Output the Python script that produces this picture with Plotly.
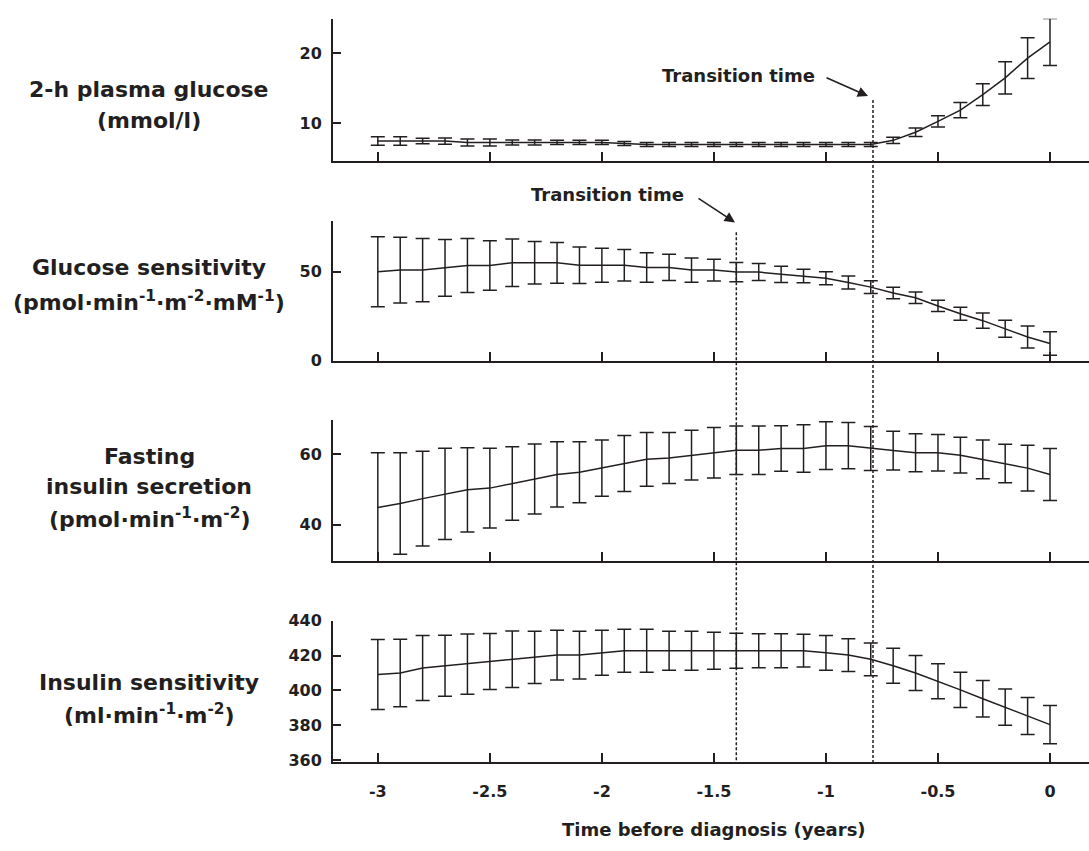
import plotly.graph_objects as go

W, H = 1089, 851

# ---------------- data ----------------
time = [-3.0, -2.9, -2.8, -2.7, -2.6, -2.5, -2.4, -2.3, -2.2, -2.1, -2.0,
        -1.9, -1.8, -1.7, -1.6, -1.5, -1.4, -1.3, -1.2, -1.1, -1.0,
        -0.9, -0.8, -0.7, -0.6, -0.5, -0.4, -0.3, -0.2, -0.1, 0.0]

glucose_mean = [7.5, 7.5, 7.5, 7.5, 7.3, 7.3, 7.3, 7.3, 7.3, 7.3, 7.3,
                7.15, 7.0, 7.0, 7.0, 7.0, 7.0, 7.0, 7.0, 7.0, 7.0,
                7.0, 7.0, 7.6, 8.75, 10.3, 11.9, 14.1, 16.5, 19.3, 21.6]
glucose_err = [0.6, 0.6, 0.4, 0.45, 0.5, 0.5, 0.35, 0.35, 0.3, 0.3, 0.3,
               0.3, 0.28, 0.28, 0.28, 0.28, 0.28, 0.28, 0.28, 0.28, 0.28,
               0.28, 0.28, 0.45, 0.6, 0.8, 1.1, 1.55, 2.3, 2.9, 3.35]

gsens_mean = [50.0, 50.9, 50.9, 52.2, 53.5, 53.5, 55.0, 55.0, 55.0, 53.6, 53.6,
              53.6, 52.4, 52.4, 50.9, 50.9, 49.8, 49.8, 48.5, 47.6, 46.3,
              43.9, 41.3, 38.0, 35.3, 30.7, 26.3, 22.4, 17.8, 13.2, 9.5]
gsens_err = [19.7, 18.5, 17.8, 16.0, 15.2, 14.0, 13.4, 12.0, 11.5, 10.3, 9.6,
             8.9, 8.3, 7.4, 6.8, 6.1, 5.4, 4.8, 4.6, 3.8, 3.6,
             3.7, 3.6, 3.2, 3.2, 3.2, 3.6, 4.3, 4.8, 6.2, 6.6]

fins_mean = [44.9, 46.0, 47.4, 48.75, 49.9, 50.4, 51.7, 53.0, 54.3, 54.9, 56.1,
             57.4, 58.6, 59.0, 59.8, 60.5, 61.2, 61.2, 61.7, 61.7, 62.5,
             62.5, 61.7, 61.1, 60.5, 60.5, 59.8, 58.6, 57.4, 56.1, 54.3]
fins_err = [15.6, 14.5, 13.5, 13.0, 12.0, 11.4, 10.5, 10.0, 9.3, 8.7, 8.0,
            8.0, 7.7, 7.3, 7.1, 7.2, 6.9, 6.9, 6.5, 6.8, 6.8,
            6.6, 6.3, 5.5, 5.4, 5.2, 5.1, 5.5, 5.5, 6.5, 7.4]

isens_mean = [409.1, 410.0, 412.9, 414.2, 415.1, 416.6, 417.9, 419.0, 420.3, 420.3, 421.6,
              422.8, 422.8, 422.8, 422.8, 422.8, 422.8, 422.8, 422.8, 422.8, 421.6,
              420.3, 417.9, 414.2, 410.0, 405.3, 400.3, 395.2, 390.4, 385.3, 380.4]
isens_err = [20.1, 19.4, 18.7, 17.5, 17.3, 16.1, 16.2, 15.0, 14.3, 13.7, 12.9,
             12.3, 12.3, 11.2, 11.2, 10.6, 10.0, 9.8, 9.8, 9.4, 10.0,
             9.4, 9.4, 10.0, 10.0, 10.0, 10.1, 10.5, 10.4, 10.6, 11.0]

transition_glucose = -0.79
transition_sens = -1.4

x_ticks = [-3, -2.5, -2, -1.5, -1, -0.5, 0]
x_tick_labels = ["-3", "-2.5", "-2", "-1.5", "-1", "-0.5", "0"]

panel_labels = [
    ["2-h plasma glucose", "(mmol/l)"],
    ["Glucose sensitivity", "(pmol·min<sup>-1</sup>·m<sup>-2</sup>·mM<sup>-1</sup>)"],
    ["Fasting", "insulin secretion", "(pmol·min<sup>-1</sup>·m<sup>-2</sup>)"],
    ["Insulin sensitivity", "(ml·min<sup>-1</sup>·m<sup>-2</sup>)"],
]
y_ticks = [[10, 20], [0, 50], [40, 60], [360, 380, 400, 420, 440]]
y_ranges = [[4.7, 24.9], [-0.55, 78.5], [29.5, 69.8], [358.9, 440]]

# ---------------- style ----------------
INK = "#231f20"
FONT = "DejaVu Sans"

def py(px):
    return 1 - px / H

def px_x(px):
    return px / W

# panel pixel extents (top, bottom)
panels_px = [(10, 155), (216.7, 360), (420, 564.3), (625, 769.3)]
x_left_px = 333
x_range = [-3.2, 0.174]

series = [(glucose_mean, glucose_err), (gsens_mean, gsens_err),
          (fins_mean, fins_err), (isens_mean, isens_err)]

fig = go.Figure()
layout = dict(
    width=W, height=H, margin=dict(l=0, r=0, t=0, b=0),
    paper_bgcolor="white", plot_bgcolor="white", showlegend=False,
    font=dict(family=FONT, color=INK, size=16, weight="bold"),
)

for i, ((mean, err), (top, bot)) in enumerate(zip(series, panels_px)):
    n = i + 1
    xa = "x" if n == 1 else f"x{n}"
    ya = "y" if n == 1 else f"y{n}"
    fig.add_trace(go.Scatter(
        x=time, y=mean, mode="lines", xaxis=xa, yaxis=ya,
        line=dict(color=INK, width=1.5),
        error_y=dict(type="data", array=err, visible=True, color=INK,
                     thickness=1.5, width=7),
        cliponaxis=False,
    ))
    layout[f"xaxis{'' if n == 1 else n}"] = dict(
        domain=[px_x(x_left_px), 1], range=x_range, anchor=ya,
        showline=True, linecolor=INK, linewidth=2,
        ticks="inside", ticklen=9, tickwidth=1.5, tickcolor=INK,
        tickvals=x_ticks, ticktext=x_tick_labels,
        showticklabels=(n == 4), showgrid=False, zeroline=False,
        tickfont=dict(family=FONT, size=16, color=INK, weight="bold"),
        ticklabelstandoff=14,
    )
    layout[f"yaxis{'' if n == 1 else n}"] = dict(
        domain=[py(bot), py(top)], range=y_ranges[i], anchor=xa,
        showline=True, linecolor=INK, linewidth=2,
        ticks="inside", ticklen=8, tickwidth=1.5, tickcolor=INK,
        tickvals=y_ticks[i], showgrid=False, zeroline=False,
        tickfont=dict(family=FONT, size=16, color=INK, weight="bold"),
        ticklabelstandoff=6,
    )

fig.update_layout(**layout)

annotations = []
label_y_px = [[82, 114], [264, 298], [457, 488, 520], [688, 720]]
for lines, ys in zip(panel_labels, label_y_px):
    for txt, yy in zip(lines, ys):
        annotations.append(dict(
            text=txt, x=px_x(149), y=py(yy), xref="paper", yref="paper",
            xanchor="center", yanchor="middle", showarrow=False,
            font=dict(family=FONT, size=22, color=INK, weight="bold")))

# x axis title
annotations.append(dict(
    text="Time before diagnosis (years)", x=-1.5, xref="x4",
    y=py(838), yref="paper", xanchor="center", yanchor="middle",
    showarrow=False, font=dict(family=FONT, size=18, color=INK, weight="bold")))

# transition time labels
annotations.append(dict(
    text="Transition time", x=px_x(738), y=py(68), xref="paper", yref="paper",
    xanchor="center", yanchor="middle", showarrow=False,
    font=dict(family=FONT, size=18, color=INK, weight="bold")))
annotations.append(dict(
    text="Transition time", x=px_x(607), y=py(189), xref="paper", yref="paper",
    xanchor="center", yanchor="middle", showarrow=False,
    font=dict(family=FONT, size=18, color=INK, weight="bold")))

# arrows
annotations.append(dict(
    text="", x=transition_glucose - 0.022, y=py(89), xref="x", yref="paper",
    showarrow=True, ax=-43, ay=-19, arrowhead=2, arrowsize=1.3,
    arrowwidth=1.6, arrowcolor=INK, standoff=0, startstandoff=0))
annotations.append(dict(
    text="", x=transition_sens - 0.006, y=py(218), xref="x2", yref="paper",
    showarrow=True, ax=-38, ay=-25, arrowhead=2, arrowsize=1.3,
    arrowwidth=1.6, arrowcolor=INK, standoff=0, startstandoff=0))

fig.update_layout(annotations=annotations)

# dashed transition lines
shapes = [
    dict(type="line", xref="x4", yref="paper", x0=transition_glucose, x1=transition_glucose,
         y0=py(93), y1=py(770), line=dict(color=INK, width=1.5, dash="3px,2px")),
    dict(type="line", xref="x4", yref="paper", x0=transition_sens, x1=transition_sens,
         y0=py(228), y1=py(770), line=dict(color=INK, width=1.5, dash="3px,2px")),
]
fig.update_layout(shapes=shapes)

fig.write_html("out.html")
